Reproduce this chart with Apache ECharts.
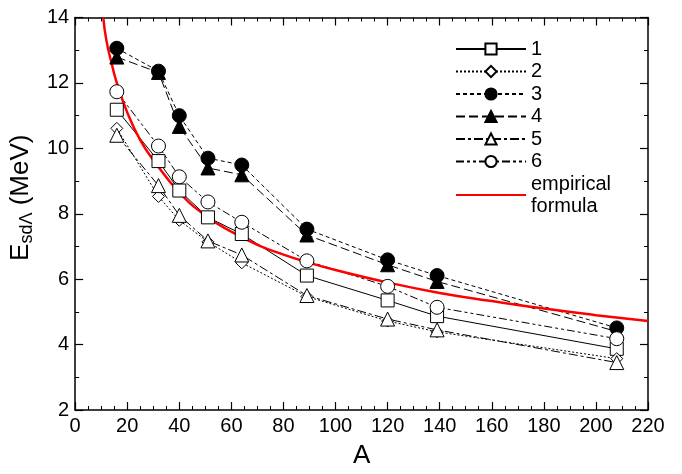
<!DOCTYPE html>
<html>
<head>
<meta charset="utf-8">
<script src="https://cdn.jsdelivr.net/npm/echarts@6/dist/echarts.min.js"></script>
<style>
  html, body { margin: 0; padding: 0; background: #fff; }
  #chart { width: 682px; height: 474px; }
</style>
</head>
<body>
<div id="chart"></div>
<script>
// mass numbers
var massA = [16, 32, 40, 51, 64, 89, 120, 139, 208];
// E_sdΛ values (MeV)
var set1 = [11.18, 9.61, 8.71, 7.89, 7.38, 6.11, 5.35, 4.87, 3.87];
var set2 = [10.61, 8.53, 7.80, 7.14, 6.50, 5.47, 4.72, 4.39, 3.57];
var set3 = [13.06, 12.36, 11.00, 9.70, 9.49, 7.53, 6.59, 6.11, 4.51];
var set4 = [12.79, 12.32, 10.67, 9.40, 9.19, 7.35, 6.44, 5.93, 4.40];
var set5 = [10.40, 8.86, 7.95, 7.17, 6.74, 5.50, 4.78, 4.45, 3.45];
var set6 = [11.73, 10.07, 9.13, 8.36, 7.74, 6.56, 5.78, 5.14, 4.18];
// points
var curveA = [10.8, 12, 14, 16, 20, 25, 30, 40, 50, 60, 70, 80, 90, 100, 120, 140, 160, 180, 200, 220];
var curveE = [14.0, 13.3, 12.6, 12.0, 11.1, 10.25, 9.65, 8.65, 7.95, 7.45, 7.05, 6.75, 6.5, 6.28, 5.9, 5.58, 5.33, 5.1, 4.9, 4.72];
var xTicks = { min: 0, max: 220, step: 20 };
var yTicks = { min: 2, max: 14, step: 2 };

function pairs(xs, ys) {
  return xs.map(function (x, i) { return [x, ys[i]]; });
}

var chart = echarts.init(document.getElementById('chart'));

var font = 'Liberation Sans, Arial, sans-serif';

function markerSeries(name, ys, symbol, filled, dash, size) {
  return {
    name: name,
    type: 'line',
    data: pairs(massA, ys),
    symbol: symbol,
    symbolSize: size,
    showAllSymbol: true,
    lineStyle: { color: '#000', width: 1, type: dash },
    itemStyle: {
      color: filled ? '#000' : '#fff',
      borderColor: '#000',
      borderWidth: 1
    },
    emphasis: { disabled: true }
  };
}

var axisBase = {
  type: 'value',
  axisLine: { onZero: false, lineStyle: { color: '#000', width: 1.5 } },
  axisTick: { inside: true, length: 8, lineStyle: { color: '#000', width: 1.2 } },
  minorTick: { show: true, length: 4, lineStyle: { color: '#000', width: 1 } },
  splitLine: { show: false }
};

var option = {
  backgroundColor: '#fff',
  animation: false,
  grid: { left: 75, right: 34, top: 17.5, bottom: 59 },
  legend: {
    left: 450,
    top: 33,
    orient: 'vertical',
    itemWidth: 70,
    itemHeight: 14,
    itemGap: 0.5,
    textStyle: { fontFamily: font, fontSize: 20, color: '#000', padding: [0, 0, 0, 0], lineHeight: 22 },
    data: ['1', '2', '3', '4', '5', '6',
      { name: 'empirical\nformula', itemStyle: { opacity: 0 } }]
  },
  xAxis: [
    Object.assign({}, axisBase, {
      min: xTicks.min, max: xTicks.max, interval: xTicks.step,
      minorTick: Object.assign({}, axisBase.minorTick, { splitNumber: 4 }),
      axisLabel: { fontFamily: font, fontSize: 20, color: '#000', margin: 6 },
      name: 'A',
      nameLocation: 'middle',
      nameGap: 33,
      nameTextStyle: { fontFamily: font, fontSize: 26, color: '#000' }
    }),
    Object.assign({}, axisBase, {
      position: 'top',
      min: xTicks.min, max: xTicks.max, interval: xTicks.step,
      minorTick: Object.assign({}, axisBase.minorTick, { splitNumber: 4 }),
      axisLabel: { show: false }
    })
  ],
  yAxis: [
    Object.assign({}, axisBase, {
      min: yTicks.min, max: yTicks.max, interval: yTicks.step,
      minorTick: Object.assign({}, axisBase.minorTick, { splitNumber: 2 }),
      axisLabel: { fontFamily: font, fontSize: 20, color: '#000', margin: 6 },
      name: '{e|E}{s|sdΛ}{e| (MeV)}',
      nameLocation: 'middle',
      nameRotate: 90,
      nameGap: 32,
      nameTextStyle: {
        fontFamily: font,
        color: '#000',
        padding: [0, 0, 0, 32],
        rich: {
          e: { fontFamily: font, fontSize: 26, color: '#000' },
          s: { fontFamily: font, fontSize: 18, color: '#000', verticalAlign: 'bottom', padding: [12, 0, 0, 0] }
        }
      }
    }),
    Object.assign({}, axisBase, {
      position: 'right',
      min: yTicks.min, max: yTicks.max, interval: yTicks.step,
      minorTick: Object.assign({}, axisBase.minorTick, { splitNumber: 2 }),
      axisLabel: { show: false }
    })
  ],
  series: [
    markerSeries('1', set1, 'rect', false, 'solid', 13),
    markerSeries('2', set2, 'diamond', false, [2, 2], 12),
    markerSeries('3', set3, 'circle', true, [4, 3], 14),
    markerSeries('4', set4, 'triangle', true, [9, 4], 14),
    markerSeries('5', set5, 'triangle', false, [9, 3, 3, 3], 14),
    markerSeries('6', set6, 'circle', false, [8, 3, 3, 3, 3, 3], 14),
    {
      name: 'empirical\nformula',
      type: 'line',
      data: pairs(curveA, curveE),
      smooth: true,
      symbol: 'none',
      lineStyle: { color: '#f00', width: 2.5 },
      itemStyle: { color: '#f00' },
      emphasis: { disabled: true }
    }
  ]
};

chart.setOption(option);
</script>
</body>
</html>
